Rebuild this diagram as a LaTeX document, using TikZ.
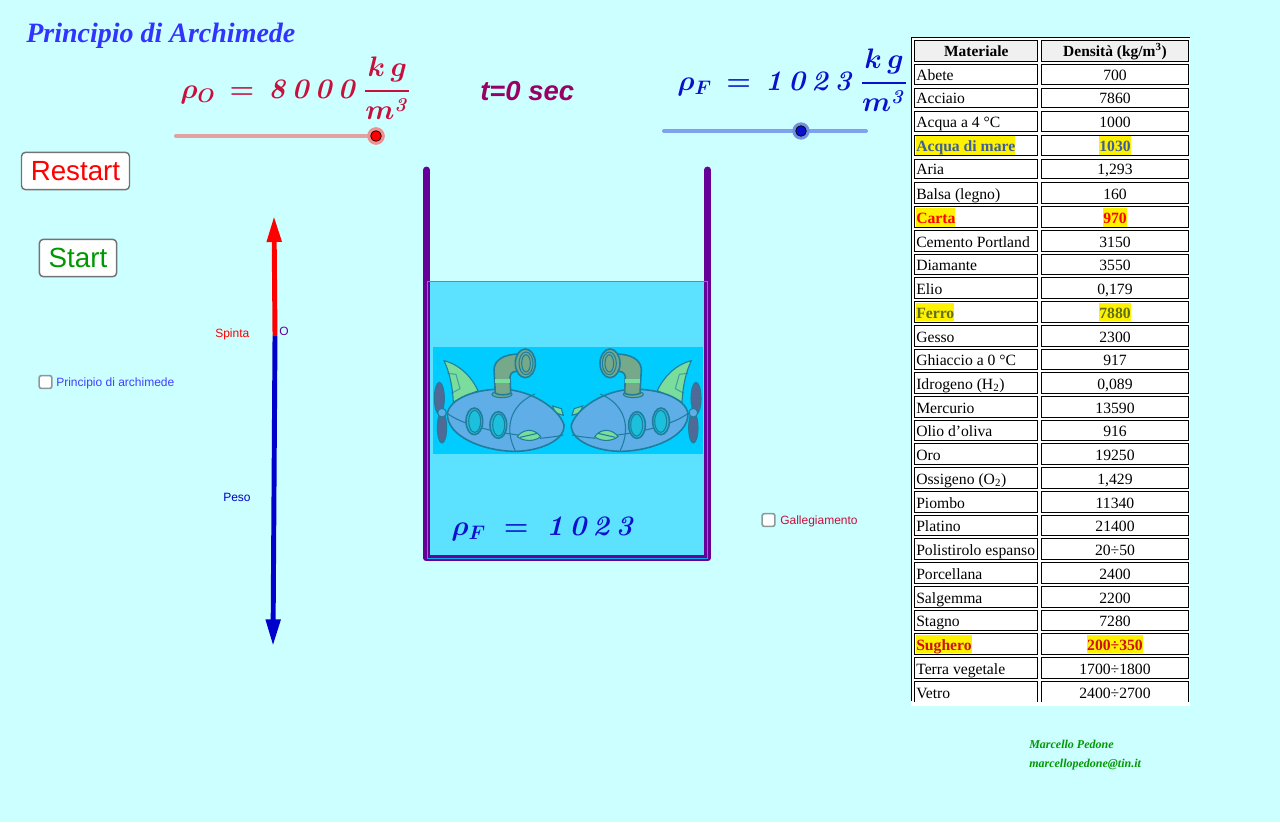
\documentclass[tikz,border=0pt]{standalone}
\usepackage[no-math]{fontspec}
\usepackage{amsmath}
\usetikzlibrary{arrows.meta}
\setmainfont{Liberation Serif}
\newfontfamily\sansf{Liberation Sans}
\definecolor{bgc}{HTML}{CCFFFF}
\definecolor{water}{HTML}{5CE1FF}
\definecolor{tankc}{HTML}{660099}
\definecolor{rhoO}{HTML}{C8103C}
\definecolor{rhoF}{HTML}{0A10CC}
\definecolor{rhoFb}{HTML}{0000CC}
\definecolor{subbg}{HTML}{00CCFF}
\definecolor{subbody}{HTML}{5FAEE8}
\definecolor{subline}{HTML}{1F7E9E}
\definecolor{subpipe}{HTML}{76A98A}
\definecolor{subfin}{HTML}{7ADD9C}
\definecolor{subprop}{HTML}{4F6A96}
\definecolor{subwin}{HTML}{1CC0DC}
\definecolor{tbA}{HTML}{3F5F9C}
\definecolor{tbB}{HTML}{5F6F20}
\definecolor{tbC}{HTML}{CC1018}
\definecolor{tOcol}{HTML}{990066}
\definecolor{trO}{HTML}{E5A0A0}
\definecolor{trF}{HTML}{80A0F0}
\definecolor{hlO}{HTML}{F09090}
\definecolor{hlF}{HTML}{7090E0}
\definecolor{btG}{HTML}{009900}
\definecolor{lbB}{HTML}{4040FF}
\definecolor{chkc}{HTML}{8A9A9A}
\definecolor{tbtitle}{HTML}{3333FF}
\newcommand\numO{\mathit{8\mkern1.5mu0\mkern1.5mu0\mkern1.5mu0}}
\newcommand\numF{\mathit{1\mkern1.5mu0\mkern1.5mu2\mkern1.5mu3}}
\newcommand\unitfr{\dfrac{k\,g}{m^{\mathit{3}}}}
\tikzset{
  label text/.style={inner sep=0pt,anchor=base west,font=\sansf\fontsize{9pt}{10pt}\selectfont},
  tbcell/.style={draw=black,line width=.75pt,fill=white,inner sep=0pt,minimum width=#1},
  tbtext/.style={inner sep=0pt,text height=11.5pt,text depth=2.5pt,font=\fontsize{11.75pt}{13pt}\selectfont},
  tbplain/.style={tbtext},
  tbblue/.style={tbtext,fill=yellow,text=tbA,font=\bfseries\fontsize{11.75pt}{13pt}\selectfont},
  tbred/.style={tbtext,fill=yellow,text=red,font=\bfseries\fontsize{11.75pt}{13pt}\selectfont},
  tbolive/.style={tbtext,fill=yellow,text=tbB,font=\bfseries\fontsize{11.75pt}{13pt}\selectfont},
  tbdred/.style={tbtext,fill=yellow,text=tbC,font=\bfseries\fontsize{11.75pt}{13pt}\selectfont},
  pushbtn/.style={draw=black!55,line width=1.1pt,fill=white,rounded corners=3pt,inner sep=0pt,font=\sansf\fontsize{20.8pt}{24pt}\selectfont},
  chkbox/.style={draw=chkc,line width=1.2pt,fill=white,rounded corners=1.5pt,minimum size=9.5pt,inner sep=0pt},
  fmla/.style={inner sep=0pt,anchor=base west,scale=1.02,transform shape,font=\fontsize{20.74pt}{26pt}\selectfont\boldmath},
  force/.style={line width=3.7pt},
  track/.style={line width=3pt,line cap=round},
  subl/.style={draw=subline,line width=.8pt},
  subh/.style={draw=subline,line width=1.2pt},
}
\newcommand\submarine{%
  \fill[subbg] (38,52) rectangle (443,372);
  \draw[subl,fill=subfin] (72,92) .. controls (125,105) and (160,150) .. (174,182) -- (100,216) .. controls (98,170) and (88,125) .. (72,92) -- cycle;
  \draw[subl,draw opacity=.6] (82,130) -- (108,133) -- (120,176) -- (94,190);
  \draw[subl,fill=subfin] (398,228) -- (424,236) -- (430,256) -- (405,248) -- cycle;
  \draw[subl,fill=subprop] (58,205) ellipse [x radius=15,y radius=48];
  \draw[subl,fill=subprop] (66,293) ellipse [x radius=14,y radius=46];
  \draw[subh,fill=subbody] (82,250) .. controls (90,205) and (170,175) .. (250,178)
     .. controls (330,180) and (415,232) .. (432,285)
     .. controls (435,335) and (350,365) .. (280,364)
     .. controls (190,362) and (80,320) .. (82,250) -- cycle;
  \draw[subl] (82,250) .. controls (120,280) and (210,305) .. (295,315);
  \draw[subl] (360,325) .. controls (385,322) and (410,320) .. (430,315);
  \draw[subl] (345,192) .. controls (290,215) and (265,260) .. (270,310) .. controls (273,335) and (280,350) .. (286,363);
  \draw[subl,fill=subpipe] (246,193) ellipse [x radius=30,y radius=10];
  \draw[subh,fill=subpipe] (226,190) -- (222,118) .. controls (224,90) and (250,72) .. (300,72) -- (300,125) .. controls (285,122) and (272,125) .. (270,140) -- (272,190) .. controls (260,196) and (238,196) .. (226,190) -- cycle;
  \fill[subfin] (225,148) rectangle (271,158);
  \draw[subh,fill=subpipe] (316,100) ellipse [x radius=30,y radius=43];
  \draw[subl,fill=subpipe] (318,100) ellipse [x radius=21,y radius=34];
  \draw[subl,fill=subpipe] (318,100) ellipse [x radius=13,y radius=26];
  \draw[subl,fill=subbody] (66,248) circle [radius=13];
  \foreach \wx/\wy in {163/274,235/285}{
    \draw[subh,fill=subwin] (\wx,\wy) ellipse [x radius=25,y radius=40];
    \draw[subl,fill=subwin] (\wx+1,\wy) ellipse [x radius=18,y radius=33];
  }
  \draw[subl,fill=subfin] (292,320) .. controls (305,300) and (340,290) .. (362,320) .. controls (345,335) and (310,335) .. (292,320) -- cycle;
  \draw[subl] (300,322) -- (352,310);
}
\begin{document}
\begin{tikzpicture}[x=.75pt,y=-.75pt]
\useasboundingbox (0,0) rectangle (1280,822);
\fill[bgc] (0,0) rectangle (1280,822);

% title
\node[inner sep=0pt,anchor=base west,text=tbtitle,font=\bfseries\itshape\fontsize{21pt}{24pt}\selectfont] (title) at (26,42) {Principio di Archimede};

% rho O formula and slider
\node[fmla,text=rhoO] (fO) at (180,98) {$\rho_{O}\,=\,\numO\,\unitfr$};
\node[inner sep=0pt,anchor=base west,text=tOcol,font=\sansf\bfseries\itshape\fontsize{20.6pt}{24pt}\selectfont] (tsec) at (480,100) {t=0 sec};
\coordinate (sOa) at (176,136);
\node[circle,inner sep=0pt,minimum size=13pt,fill=hlO] (kO) at (376,136) {};
\draw[track,draw=trO] (sOa) -- (kO.center);
\node[circle,inner sep=0pt,minimum size=13pt,fill=hlO] (kOh) at (kO) {};
\node[circle,inner sep=0pt,minimum size=8pt,fill=red,draw=black,line width=.5pt] (kOi) at (kO) {};

% rho F formula and slider
\node[fmla,text=rhoF] (fF) at (677,90) {$\rho_{F}\,=\,\numF\,\unitfr$};
\coordinate (sFa) at (664,131);
\coordinate (sFb) at (866,131);
\draw[track,draw=trF] (sFa) -- (sFb);
\node[circle,inner sep=0pt,minimum size=13pt,fill=hlF] (kF) at (801,131) {};
\node[circle,inner sep=0pt,minimum size=8pt,fill=rhoF,draw=black,line width=.5pt] (kFi) at (kF) {};

% buttons
\node[pushbtn,minimum width=81pt,minimum height=28pt,text=red] (restart) at (75.5,171) {Restart};
\node[pushbtn,minimum width=58pt,minimum height=28pt,text=btG] (start) at (78,258) {Start};

% forces
\coordinate (O) at (275,336);
\coordinate (up) at (274,216);
\coordinate (dn) at (273,646);
\draw[force,draw=rhoFb,-{Triangle[length=20pt,width=10.5pt]}] (O) -- (dn);
\draw[force,draw=red,-{Triangle[length=19.5pt,width=10.5pt]}] (O) -- (up);
\node[label text,text=red] (spinta) at (215,337.5) {Spinta};
\node[label text,text=tankc] (olab) at (279,335.5) {O};
\node[label text,text=rhoFb] (peso) at (223,501) {Peso};

% check boxes
\node[chkbox] (chk1) at (45.5,382) {};
\node[label text,text=lbB] (chk1t) at (56,386) {Principio di archimede};
\node[chkbox] (chk2) at (768.5,520) {};
\node[label text,text=rhoO] (chk2t) at (780,524) {Gallegiamento};

% tank and water
\fill[water] (427,281.5) rectangle (707.5,558.5);
\begin{scope}[shift={(420,330)},x=.25pt,y=-.25pt]\submarine\end{scope}
\begin{scope}[shift={(715.33,330)},xscale=-1,x=.25pt,y=-.25pt]\submarine\end{scope}
\node[fmla,text=rhoF] (fW) at (451,535) {$\rho_{F}\;=\;\numF$};
\coordinate (tl) at (426.5,170);
\coordinate (tr) at (707.5,170);
\coordinate (bl) at (426.5,558);
\coordinate (br) at (707.5,558);
\draw[tankc,line width=5.2pt,line cap=round,line join=round] (tl) -- (bl) -- (br) -- (tr);
\draw[cyan,line width=.6pt] (427,558.5) -- (427,281.5) -- (707.5,281.5) -- (707.5,558.5) -- cycle;

% table
\fill[white] (910.5,37) rectangle (1190,705.5);
\draw[black,line width=.75pt] (911.5,701) -- (911.5,37.5) -- (1190,37.5);
\node[tbcell=92.2pt,minimum height=15.6pt,fill=black!6] (h1) at (976.3,51) {};
\node[tbcell=109.7pt,minimum height=15.6pt,fill=black!6] (h2) at (1115,51) {};
\node[inner sep=0pt,font=\bfseries\fontsize{11.6pt}{13pt}\selectfont,anchor=base] (h1t) at (976.3,56) {Materiale};
\node[inner sep=0pt,font=\bfseries\fontsize{11.6pt}{13pt}\selectfont,anchor=base] (h2t) at (1115,56) {Densità (kg/m\textsuperscript{3})};
\foreach \t/\b/\m/\v/\s [count=\i] in {
  64/85.5/Abete/700/tbplain,
  88/108.5/Acciaio/7860/tbplain,
  111/132/Acqua a 4 °C/1000/tbplain,
  135/156/Acqua di mare/1030/tbblue,
  159/179/Aria/{1,293}/tbplain,
  182/204/Balsa (legno)/160/tbplain,
  206/228/Carta/970/tbred,
  230.3/251.7/Cemento Portland/3150/tbplain,
  254.3/274.7/Diamante/3550/tbplain,
  277.3/298.7/Elio/{0,179}/tbplain,
  301/322.7/Ferro/7880/tbolive,
  325/346.7/Gesso/2300/tbplain,
  349/369.7/Ghiaccio a 0 °C/917/tbplain,
  372/393.7/Idrogeno (H\textsubscript{2})/{0,089}/tbplain,
  396/417.7/Mercurio/13590/tbplain,
  420/441/Olio d’oliva/916/tbplain,
  443/464.7/Oro/19250/tbplain,
  467/488.7/Ossigeno (O\textsubscript{2})/{1,429}/tbplain,
  491/512.7/Piombo/11340/tbplain,
  515/535.7/Platino/21400/tbplain,
  538/559.7/Polistirolo espanso/20÷50/tbplain,
  562/583.7/Porcellana/2400/tbplain,
  586/607.7/Salgemma/2200/tbplain,
  610/630.7/Stagno/7280/tbplain,
  633/654.7/Sughero/200÷350/tbdred,
  657/678.7/Terra vegetale/1700÷1800/tbplain,
  681/703/Vetro/2400÷2700/tbplain}{
  \node[tbcell=92.2pt,minimum height={(\b-\t-1.1)*.75pt}] (cl\i) at (976.3,{(\t+\b)/2}) {};
  \node[tbcell=109.7pt,minimum height={(\b-\t-1.1)*.75pt}] (cr\i) at (1115,{(\t+\b)/2}) {};
  \node[\s,anchor=base west] (mat\i) at (916,\b-4.7) {\m};
  \node[\s,anchor=base] (den\i) at (1115,\b-4.7) {\v};
}
\fill[white] (910.5,701.5) rectangle (1190,705.5);

% credits
\node[inner sep=0pt,anchor=base west,text=btG,font=\bfseries\itshape\fontsize{9pt}{11pt}\selectfont] (c1) at (1029,748) {Marcello Pedone};
\node[inner sep=0pt,anchor=base west,text=btG,font=\bfseries\itshape\fontsize{9pt}{11pt}\selectfont] (c2) at (1029,767) {marcellopedone@tin.it};
\end{tikzpicture}
\end{document}
